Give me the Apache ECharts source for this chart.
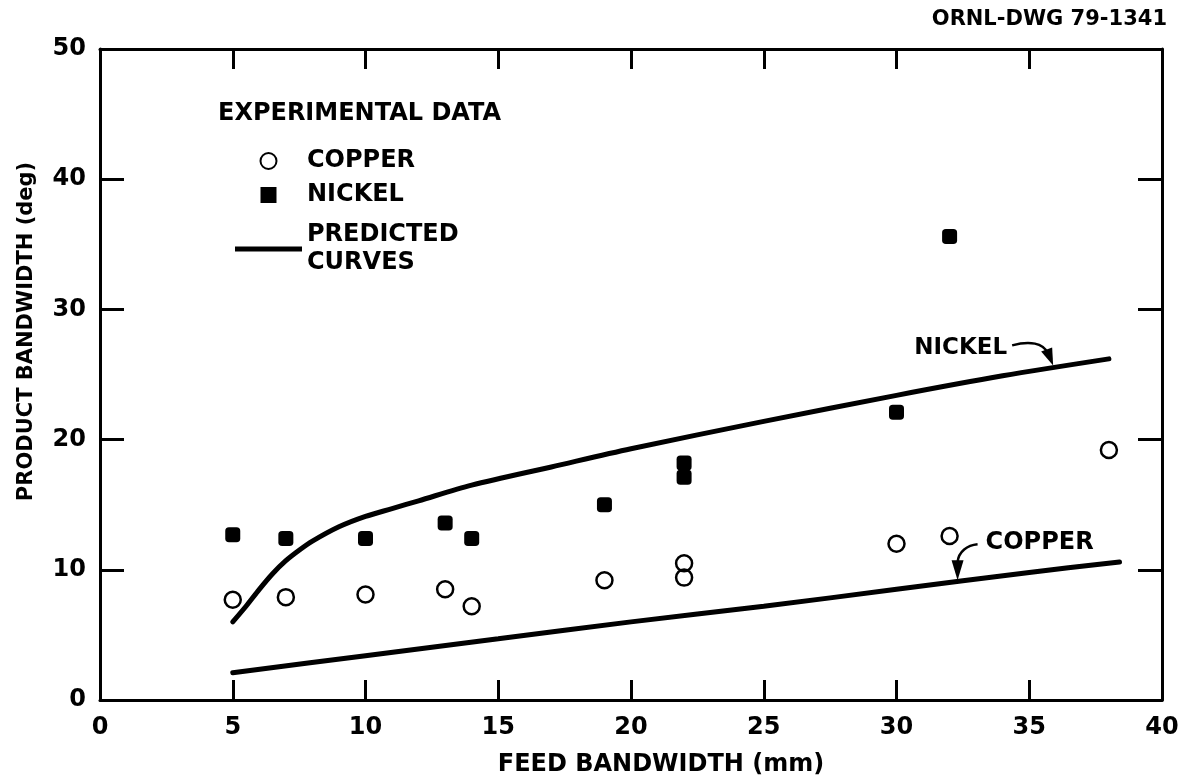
<!DOCTYPE html>
<html><head><meta charset="utf-8">
<script src="https://cdn.jsdelivr.net/npm/echarts@6/dist/echarts.min.js"></script>
<style>html,body{margin:0;padding:0;background:#fff}#c{width:1192px;height:783px}</style>
</head><body><div id="c"></div>
<script>
const xTicks = [0, 5, 10, 15, 20, 25, 30, 35, 40];
const yTicks = [0, 10, 20, 30, 40, 50];
const copperX = [5, 7, 10, 13, 14, 19, 22, 22, 30, 32, 38];
const copperY = [7.7, 7.9, 8.1, 8.5, 7.2, 9.2, 10.5, 9.4, 12.0, 12.6, 19.2];
const nickelX = [5, 7, 10, 13, 14, 19, 22, 22, 30, 32];
const nickelY = [12.7, 12.4, 12.4, 13.6, 12.4, 15.0, 18.2, 17.1, 22.1, 35.6];
const nickelCurveX = [5, 5.5, 6, 6.5, 7, 7.5, 8, 9, 10, 11, 12, 14, 17, 20, 25, 30, 34, 38];
const nickelCurveY = [6.0, 7.2, 8.5, 9.7, 10.7, 11.5, 12.2, 13.3, 14.1, 14.7, 15.3, 16.5, 17.9, 19.3, 21.4, 23.4, 24.9, 26.2];
const copperCurveX = [5, 10, 15, 20, 25, 30, 35, 38.4];
const copperCurveY = [2.1, 3.4, 4.7, 6.0, 7.2, 8.5, 9.8, 10.6];
const nickelArrowTip = [35.9, 25.7];
const copperArrowTip = [32.3, 9.2];

const FONT = 'DejaVu Sans';
const zip = (xs, ys) => xs.map((x, i) => [x, ys[i]]);
const txt = (size) => ({ fontFamily: FONT, fontWeight: 'bold', fontSize: size, color: '#000' });

const chart = echarts.init(document.getElementById('c'), null, { renderer: 'canvas' });

function xAxisCfg(pos, showLabels) {
  return {
    type: 'value', min: xTicks[0], max: xTicks[xTicks.length - 1], interval: 5, position: pos,
    axisLine: { show: true, onZero: false, lineStyle: { color: '#000', width: 3 } },
    axisTick: { show: true, inside: true, length: 20, lineStyle: { color: '#000', width: 3 } },
    axisLabel: Object.assign({ show: showLabels, margin: 16 }, txt(24)),
    splitLine: { show: false }
  };
}
function yAxisCfg(pos, showLabels) {
  return {
    type: 'value', min: yTicks[0], max: yTicks[yTicks.length - 1], interval: 10, position: pos,
    axisLine: { show: true, onZero: false, lineStyle: { color: '#000', width: 3 } },
    axisTick: { show: true, inside: true, length: 24, lineStyle: { color: '#000', width: 3 } },
    axisLabel: Object.assign({ show: showLabels, margin: 14 }, txt(24)),
    splitLine: { show: false }
  };
}

const xb = xAxisCfg('bottom', true);
xb.name = 'FEED BANDWIDTH (mm)';
xb.nameLocation = 'middle';
xb.nameGap = 53;
xb.nameMoveOverlap = false;
xb.nameTextStyle = Object.assign({ padding: [0, 0, 0, 60] }, txt(24));
const xt = xAxisCfg('top', false);

const yl = yAxisCfg('left', true);
yl.name = 'PRODUCT BANDWIDTH (deg)';
yl.nameLocation = 'middle';
yl.nameGap = 63;
yl.nameMoveOverlap = false;
yl.nameTextStyle = Object.assign({ padding: [0, 0, 0, 86] }, txt(21));
const yr = yAxisCfg('right', false);

chart.setOption({
  animation: false,
  backgroundColor: '#fff',
  grid: { left: 100, right: 30, top: 49, bottom: 83, containLabel: false, outerBoundsMode: 'none' },
  title: [
    { text: 'EXPERIMENTAL DATA', left: 218, top: 102, padding: 0, textStyle: txt(24) },
    { text: 'ORNL-DWG 79-1341', right: 25, top: 9, padding: 0, textStyle: txt(21) }
  ],
  legend: {
    orient: 'vertical', left: 235, top: 147, padding: 0,
    itemWidth: 67, itemHeight: 16, itemGap: 6, selectedMode: false, symbolKeepAspect: true,
    textStyle: Object.assign({ lineHeight: 28 }, txt(24)),
    data: [
      { name: 'COPPER', icon: 'circle' },
      { name: 'NICKEL', icon: 'path://M0,0H10V10H0Z' },
      { name: 'PREDICTED\nCURVES', icon: 'path://M0,0H67V5H0Z', textStyle: { padding: [6, 0, 6, 0] } }
    ]
  },
  xAxis: [xb, xt],
  yAxis: [yl, yr],
  series: [
    {
      name: 'PREDICTED\nCURVES', type: 'line', xAxisIndex: 0, yAxisIndex: 0,
      data: zip(nickelCurveX, nickelCurveY), symbol: 'none', smooth: 0.3,
      lineStyle: { color: '#000', width: 5, cap: 'round' }, itemStyle: { color: '#000' }, z: 2
    },
    {
      name: 'PREDICTED\nCURVES', type: 'line', xAxisIndex: 0, yAxisIndex: 0,
      data: zip(copperCurveX, copperCurveY), symbol: 'none', smooth: 0.3,
      lineStyle: { color: '#000', width: 5, cap: 'round' }, itemStyle: { color: '#000' }, z: 2
    },
    {
      name: 'COPPER', type: 'scatter', xAxisIndex: 0, yAxisIndex: 0,
      data: zip(copperX, copperY), symbol: 'circle', symbolSize: 16,
      itemStyle: { color: 'rgba(255,255,255,0)', borderColor: '#000', borderWidth: 2.5, opacity: 1 }, z: 3
    },
    {
      name: 'NICKEL', type: 'scatter', xAxisIndex: 0, yAxisIndex: 0,
      data: zip(nickelX, nickelY), symbol: 'roundRect', symbolSize: 15,
      itemStyle: { color: '#000', opacity: 1 }, z: 3
    }
  ]
});

// Annotation arrows + labels, anchored to data coordinates
const nt = chart.convertToPixel({ gridIndex: 0 }, nickelArrowTip);
const ct = chart.convertToPixel({ gridIndex: 0 }, copperArrowTip);
const P = (b, dx, dy) => [b[0] + dx, b[1] + dy];
function curve(b, s, c1, c2, e) {
  const S = P(b, s[0], s[1]), C1 = P(b, c1[0], c1[1]), C2 = P(b, c2[0], c2[1]), E = P(b, e[0], e[1]);
  return {
    type: 'bezierCurve',
    shape: { x1: S[0], y1: S[1], cpx1: C1[0], cpy1: C1[1], cpx2: C2[0], cpy2: C2[1], x2: E[0], y2: E[1] },
    style: { stroke: '#000', lineWidth: 2.5, fill: null }, z: 10
  };
}
function head(b, pts) {
  return { type: 'polygon', shape: { points: pts.map(p => P(b, p[0], p[1])) }, style: { fill: '#000' }, z: 10 };
}
chart.setOption({
  graphic: [
    { type: 'text', x: nt[0] - 46, y: nt[1] - 17, style: { text: 'NICKEL', align: 'right', verticalAlign: 'middle', fill: '#000', font: 'bold 23px "DejaVu Sans"' }, z: 10 },
    curve(nt, [-41, -20], [-23, -25], [-10, -22], [-6, -13]),
    head(nt, [[-12, -14], [-1, -18], [0, 0]]),
    { type: 'text', x: ct[0] + 28, y: ct[1] - 37, style: { text: 'COPPER', align: 'left', verticalAlign: 'middle', fill: '#000', font: 'bold 24px "DejaVu Sans"' }, z: 10 },
    curve(ct, [20, -36], [10, -35], [1, -29], [0, -18]),
    head(ct, [[-6, -20], [6, -20], [0, 0]])
  ]
});
</script>
</body></html>
